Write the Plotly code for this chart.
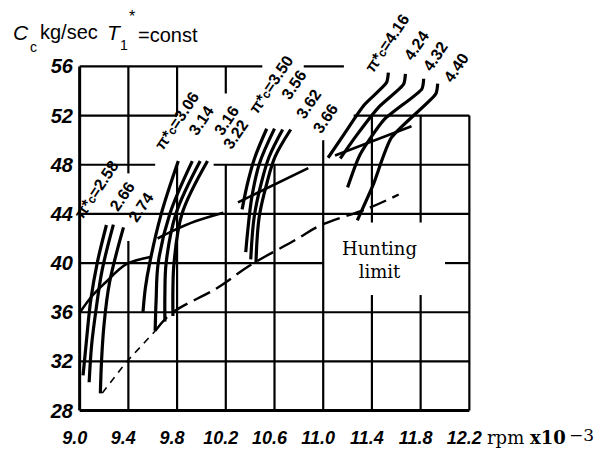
import plotly.graph_objects as go

# ---------------- values ----------------
# x: rpm x 10^-3, y: Gc kg/sec
SUBC = "<span style='font-size:12px'>c</span>"
fam1_names = ["π*" + SUBC + "=2.58", "2.66", "2.74"]
fam1_x = [[9.028, 9.056, 9.091, 9.144, 9.22],
          [9.078, 9.098, 9.134, 9.185, 9.277],
          [9.17, 9.18, 9.20, 9.245, 9.36]]
fam1_y = [[30.86, 33.71, 36.98, 40.0, 43.1],
          [30.3, 33.3, 36.17, 39.45, 43.13],
          [29.4, 32.1, 34.97, 38.4, 42.9]]

fam2_names = ["π*" + SUBC + "=3.06", "3.14", "3.16", "3.22"]
fam2_x = [[9.52, 9.54, 9.575, 9.67, 9.81],
          [9.62, 9.628, 9.645, 9.74, 9.925],
          [9.70, 9.70, 9.71, 9.79, 9.99],
          [9.766, 9.766, 9.775, 9.84, 10.05]]
fam2_y = [[36.0, 38.0, 40.0, 44.0, 48.3],
          [34.5, 37.0, 40.0, 44.0, 48.3],
          [35.25, 37.5, 40.0, 44.0, 48.3],
          [35.7, 38.0, 40.0, 44.0, 48.3]]

fam3_names = ["π*" + SUBC + "=3.50", "3.56", "3.62", "3.66"]
fam3_x = [[10.334, 10.381, 10.44, 10.536],
          [10.364, 10.38, 10.414, 10.475, 10.60],
          [10.405, 10.433, 10.494, 10.556, 10.667],
          [10.448, 10.474, 10.54, 10.605, 10.733]]
fam3_y = [[44.37, 46.58, 48.63, 50.93],
          [40.9, 42.6, 45.37, 48.07, 50.94],
          [40.3, 43.74, 46.6, 48.65, 50.87],
          [40.07, 43.74, 46.6, 48.66, 50.87]]

fam4_names = ["π*" + SUBC + "=4.16", "4.24", "4.32", "4.40"]
fam4_x = [[11.04, 11.176, 11.336, 11.52, 11.535],
          [11.14, 11.275, 11.46, 11.66, 11.675],
          [11.20, 11.30, 11.50, 11.81, 11.825],
          [11.28, 11.41, 11.56, 11.925, 11.94]]
fam4_y = [[48.57, 50.56, 52.86, 54.69, 55.5],
          [48.51, 50.41, 52.73, 54.55, 55.4],
          [46.16, 48.78, 51.67, 54.17, 55.0],
          [43.48, 46.36, 50.2, 53.78, 54.6]]

# label anchor points (x, y in chart units)
fam1_lab_x = [9.14, 9.35, 9.50]
fam1_lab_y = [45.95, 45.4, 44.55]
fam2_lab_x = [9.80, 10.0, 10.206, 10.28]
fam2_lab_y = [51.6, 51.57, 51.6, 50.48]
fam3_lab_x = [10.57, 10.76, 10.876, 11.018]
fam3_lab_y = [54.55, 54.55, 52.94, 51.75]
fam4_lab_x = [11.52, 11.766, 11.92, 12.09]
fam4_lab_y = [57.9, 57.7, 56.8, 55.95]

# upper boundary line (solid pieces)
env_x = [[9.0, 9.1, 9.21, 9.38, 9.58],
         [9.64, 9.76, 9.95, 10.18],
         [10.30, 10.877],
         [11.097, 11.725]]
env_y = [[35.95, 37.3, 38.4, 39.9, 40.5],
         [42.0, 42.6, 43.4, 44.1],
         [44.94, 47.73],
         [48.75, 51.14]]

# hunting limit (dashed)
hunt1_x = [9.186, 9.379, 9.62]
hunt1_y = [29.42, 31.9, 34.47]
hunt2_x = [9.62, 9.749, 10.13, 10.40, 10.78, 10.967, 11.375, 11.62]
hunt2_y = [34.47, 35.88, 37.98, 39.82, 41.93, 43.02, 44.48, 45.58]

x_ticks = [9.0, 9.4, 9.8, 10.2, 10.6, 11.0, 11.4, 11.8, 12.2]
x_ticktext = ["9.0", "9.4", "9.8", "10.2", "10.6", "11.0", "11.4", "11.8", "12.2"]
y_ticks = [28, 32, 36, 40, 44, 48, 52, 56]
y_ticktext = ["28", "32", "36", "40", "44", "48", "52", "56"]

# ---------------- layout helpers ----------------
X0, X1 = 8.97, 12.23
Y0, Y1 = 27.8, 56.2

def ypaper(v):
    return (v - Y0) / (Y1 - Y0)

# grid pieces present in the drawing (gaps where text sits)
vgrid_spans = {
    9.0: [(28, 56)],
    9.4: [(28, 41.8), (47.3, 56)],
    9.8: [(28, 48), (52, 56)],
    10.2: [(28, 48), (53.8, 56)],
    10.6: [(28, 48)],
    11.0: [(28, 50)],
    11.4: [(28, 37.4), (43.3, 52)],
    11.8: [(28, 37.4), (43.3, 52)],
    12.2: [(28, 52)],
}
hgrid_spans = {
    28: [(9.0, 12.2)],
    32: [(9.0, 12.2)],
    36: [(9.0, 12.2)],
    40: [(9.0, 11.0), (12.0, 12.2)],
    44: [(9.0, 12.2)],
    48: [(9.0, 9.62), (10.1, 12.2)],
    52: [(9.0, 9.8), (11.25, 12.2)],
    56: [(9.0, 10.5), (10.84, 11.17)],
}

shapes = []
for xv, spans in vgrid_spans.items():
    w = 3 if xv == 9.0 else 2.2
    for a, b in spans:
        shapes.append(dict(type="line", xref="x", yref="y", x0=xv, x1=xv, y0=a, y1=b,
                           line=dict(color="black", width=w), layer="below"))
for yv, spans in hgrid_spans.items():
    w = 3 if yv == 28 else 2.2
    for a, b in spans:
        shapes.append(dict(type="line", xref="x", yref="y", x0=a, x1=b, y0=yv, y1=yv,
                           line=dict(color="black", width=w), layer="below"))

fig = go.Figure()

CURVE = dict(color="black", width=3.2)
for fx, fy in [(fam1_x, fam1_y), (fam2_x, fam2_y), (fam3_x, fam3_y)]:
    for xs, ys in zip(fx, fy):
        fig.add_trace(go.Scatter(x=xs, y=ys, mode="lines", line=dict(**CURVE, shape="spline"),
                                 showlegend=False, hoverinfo="skip"))
for xs, ys in zip(fam4_x, fam4_y):
    fig.add_trace(go.Scatter(x=xs, y=ys, mode="lines", line=dict(**CURVE, shape="spline", smoothing=0.6),
                             showlegend=False, hoverinfo="skip"))

for xs, ys in zip(env_x, env_y):
    fig.add_trace(go.Scatter(x=xs, y=ys, mode="lines", line=dict(color="black", width=2.6, shape="spline"),
                             showlegend=False, hoverinfo="skip"))

fig.add_trace(go.Scatter(x=hunt1_x, y=hunt1_y, mode="lines",
                         line=dict(color="black", width=1.6, dash="7px,6px"),
                         showlegend=False, hoverinfo="skip"))
fig.add_trace(go.Scatter(x=hunt2_x, y=hunt2_y, mode="lines",
                         line=dict(color="black", width=2.4, dash="18px,7px", shape="spline"),
                         showlegend=False, hoverinfo="skip"))

annotations = []
LABFONT = dict(family="Liberation Sans", size=16, color="black", weight="bold")
for names, lx, ly in [(fam1_names, fam1_lab_x, fam1_lab_y), (fam2_names, fam2_lab_x, fam2_lab_y),
                      (fam3_names, fam3_lab_x, fam3_lab_y), (fam4_names, fam4_lab_x, fam4_lab_y)]:
    for t, xv, yv in zip(names, lx, ly):
        annotations.append(dict(x=xv, y=ypaper(yv), xref="x", yref="paper", text=t,
                                xanchor="center", yanchor="middle",
                                showarrow=False, textangle=-56, font=LABFONT))

annotations.append(dict(x=11.465, y=40.26, xref="x", yref="y", text="Hunting<br>limit",
                        xanchor="center", yanchor="middle",
                        showarrow=False, font=dict(family="DejaVu Serif", size=18, color="black")))

# axis caption pieces (paper positions), with subscripts as separate small texts
title_parts = [
    ("<i>C</i>", -0.161, 1.089, 21),
    ("c", -0.119, 1.05, 14),
    ("kg/sec", -0.0932, 1.0917, 20),
    ("<i>T</i>", 0.0756, 1.089, 21),
    ("1", 0.109, 1.054, 14),
    ("*", 0.132, 1.1375, 16),
    ("=const", 0.1537, 1.083, 20),
]
for t, xp, yp, sz in title_parts:
    annotations.append(dict(x=xp, y=yp, xref="paper", yref="paper", xanchor="left", yanchor="middle",
                            text=t, showarrow=False, borderpad=0,
                            font=dict(family="Liberation Sans", size=sz, color="black")))
annotations.append(dict(x=1.03, y=-0.0716, xref="paper", yref="paper", xanchor="left", yanchor="middle",
                        text="rpm <b>x10</b>", showarrow=False,
                        font=dict(family="DejaVu Serif", size=18, color="black")))
annotations.append(dict(x=1.236, y=-0.062, xref="paper", yref="paper", xanchor="left", yanchor="middle",
                        text="−3", showarrow=False,
                        font=dict(family="DejaVu Serif", size=17, color="black")))

# page body adds an 8px margin, so the figure is sized to fit the 608x456 window
fig.update_layout(
    width=600, height=448,
    margin=dict(l=68, r=135, t=56, b=43, autoexpand=False),
    paper_bgcolor="white", plot_bgcolor="white",
    shapes=shapes, annotations=annotations,
    xaxis=dict(range=[X0, X1], showgrid=False, zeroline=False, showline=False, automargin=False,
               tickvals=x_ticks, ticktext=x_ticktext, ticks="",
               ticklabelstandoff=12, ticklabelshift=-5,
               tickfont=dict(family="Liberation Sans", size=18, color="black", weight="bold", style="italic")),
    yaxis=dict(range=[Y0, Y1], showgrid=False, zeroline=False, showline=False, automargin=False,
               tickvals=y_ticks, ticktext=y_ticktext, ticks="",
               ticklabelstandoff=2,
               tickfont=dict(family="Liberation Sans", size=20, color="black", weight="bold", style="italic")),
)

fig.write_html("out.html")
